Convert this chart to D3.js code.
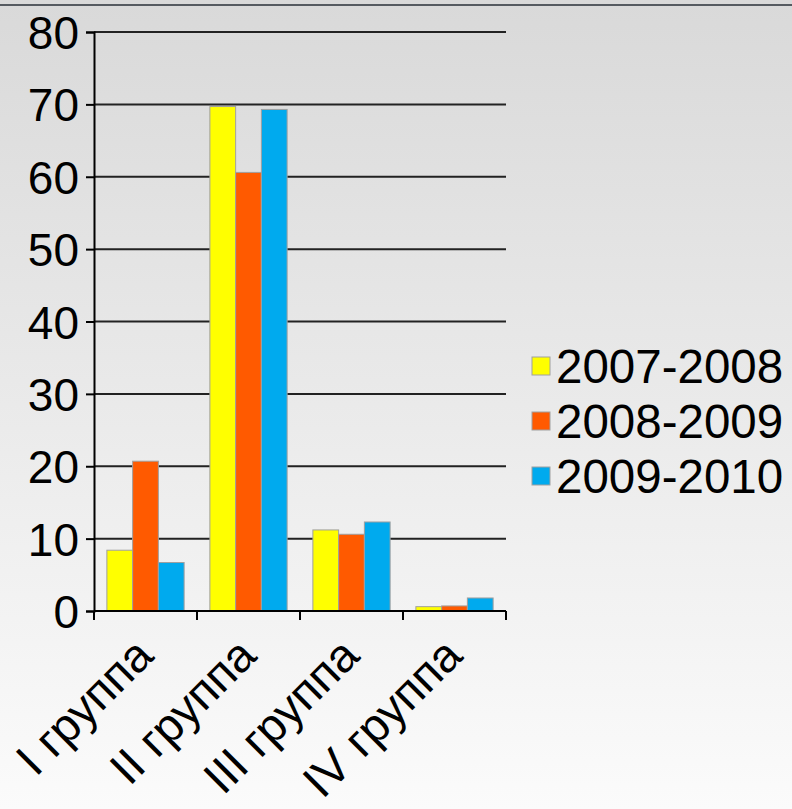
<!DOCTYPE html>
<html><head><meta charset="utf-8">
<script src="https://cdn.jsdelivr.net/npm/d3@7"></script>
<style>html,body{margin:0;padding:0;overflow:hidden;}</style>
</head><body>
<script>
const categories = ["I группа", "II группа", "III группа", "IV группа"];
const seriesNames = ["2007-2008", "2008-2009", "2009-2010"];
const s2007 = [8.4, 69.7, 11.2, 0.6];
const s2008 = [20.7, 60.6, 10.6, 0.7];
const s2009 = [6.7, 69.3, 12.3, 1.8];
const yTicks = [0, 10, 20, 30, 40, 50, 60, 70, 80];
const colors = ["#ffff00", "#ff5a00", "#00aaee"];

(function(){
const W = 792, H = 809;
const svg = d3.select("body").append("svg").attr("width", W).attr("height", H);
const defs = svg.append("defs");
const g = defs.append("linearGradient").attr("id","bg").attr("x1",0).attr("y1",0).attr("x2",0).attr("y2",1);
g.append("stop").attr("offset","0%").attr("stop-color","#d9d9d9");
g.append("stop").attr("offset","100%").attr("stop-color","#fbfbfb");
svg.append("rect").attr("width",W).attr("height",H).attr("fill","url(#bg)");
svg.append("line").attr("x1",0).attr("x2",W).attr("y1",5).attr("y2",5).attr("stroke","#555a60").attr("stroke-width",2);

const pLeft = 94, pRight = 506, pTop = 32, pBottom = 611;
const x = d3.scaleBand().domain(categories).range([pLeft, pRight]).paddingInner(0.25).paddingOuter(0.125);
const xOuter = d3.scaleBand().domain(categories).range([pLeft, pRight]);
const xs = d3.scaleBand().domain(seriesNames).range([0, x.bandwidth()]);
const y = d3.scaleLinear().domain([0, 80]).range([pBottom, pTop]);

const font = "'Liberation Sans', Arial, sans-serif";

svg.append("g").selectAll("line").data(yTicks.filter(d=>d>0)).join("line")
  .attr("x1", pLeft).attr("x2", pRight).attr("y1", d=>y(d)).attr("y2", d=>y(d))
  .attr("stroke","#222").attr("stroke-width",2);

const series = [s2007, s2008, s2009];
seriesNames.forEach((name, si) => {
  svg.append("g").selectAll("rect").data(categories).join("rect")
    .attr("x", (c)=> x(c) + xs(name))
    .attr("y", (c,i)=> y(series[si][i]))
    .attr("width", xs.bandwidth())
    .attr("height", (c,i)=> y(0) - y(series[si][i]))
    .attr("fill", colors[si]).attr("stroke","#a0a0a0").attr("stroke-width",1);
});

const yAxis = d3.axisLeft(y).tickValues(yTicks).tickSize(8).tickPadding(7);
const ya = svg.append("g").attr("transform",`translate(${pLeft},0)`).call(yAxis);
ya.select(".domain").attr("stroke","#000").attr("stroke-width",2);
ya.selectAll(".tick line").attr("stroke","#000").attr("stroke-width",2);
ya.selectAll(".tick text").attr("font-family",font).attr("font-size",46).attr("fill","#000").attr("dy","0.36em");

const xa = svg.append("g").attr("transform",`translate(0,${pBottom})`);
xa.append("line").attr("x1",pLeft).attr("x2",pRight).attr("stroke","#000").attr("stroke-width",2);
xa.selectAll(".tk").data(categories.map(c=>xOuter(c)).concat([pRight])).join("line")
  .attr("x1",d=>d).attr("x2",d=>d).attr("y1",0).attr("y2",9).attr("stroke","#000").attr("stroke-width",2);
xa.selectAll("text").data(categories).join("text")
  .attr("transform", c=>`translate(${xOuter(c)+xOuter.bandwidth()/2+10},${47}) rotate(-45)`)
  .attr("text-anchor","end").attr("font-family",font).attr("font-size",47).attr("fill","#000")
  .text(c=>c);

const lg = svg.append("g");
seriesNames.forEach((name, i) => {
  const yy = 383 + i*55;
  lg.append("rect").attr("x",532).attr("y",yy-26).attr("width",18).attr("height",18)
    .attr("fill",colors[i]).attr("stroke","#a0a0a0").attr("stroke-width",1);
  lg.append("text").attr("x",556).attr("y",yy).attr("font-family",font).attr("font-size",47.5).attr("fill","#000").text(name);
});
})();
</script>
</body></html>
